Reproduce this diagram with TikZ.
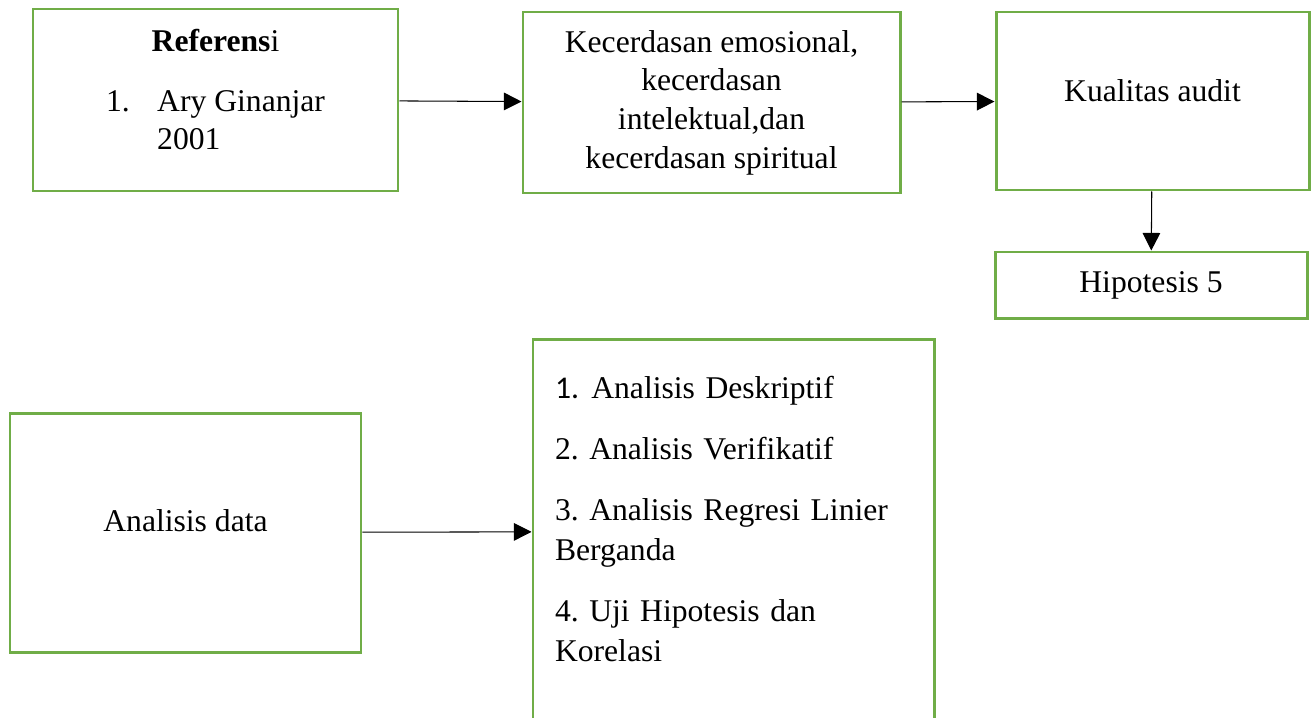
\documentclass[tikz,border=0pt]{standalone}
\usepackage{fontspec}
\setmainfont{Liberation Serif}
\newfontfamily\numfont{Carlito}
\usetikzlibrary{arrows.meta}
\definecolor{boxgreen}{HTML}{70AD47}

\begin{document}
\frenchspacing
\begin{tikzpicture}[rectangle, line width = 0.6pt, font = \fontsize{18}{22}\selectfont,
    box/.style = {draw = boxgreen, line width = 1.7pt, inner sep = 0pt, align = center},
    > = {Triangle[length = 10pt, width = 10pt]}]
    \clip (0,0) rectangle (26.32,-14.34);

    \node[box, minimum width = 7.30cm, minimum height = 3.64cm] (ref) at (4.31,-2.00)
      {\begin{tabular}{@{}l@{\hspace{0.55cm}}l@{}}
         \multicolumn{2}{c}{\textbf{Referens}i}\\[12pt]
         1. & Ary Ginanjar\\
            & 2001\\[8pt]
       \end{tabular}};
    \node[box, minimum width = 7.54cm, minimum height = 3.62cm] (kec) at (14.23,-2.05)
      {Kecerdasan emosional,\\ kecerdasan\\ intelektual,dan\\ kecerdasan spiritual};
    \node[box, minimum width = 6.26cm, minimum height = 3.56cm, text depth = 12pt] (kual) at (23.05,-2.02) {Kualitas audit};
    \node[box, minimum width = 6.24cm, minimum height = 1.32cm] (hip) at (23.02,-5.70) {Hipotesis 5};

    \node[box, minimum width = 7.02cm, minimum height = 4.78cm, text depth = 14pt] (data) at (3.71,-10.65) {Analisis data};
    \node[box, minimum width = 8.02cm, minimum height = 7.70cm, text width = 7.14cm,
          align = left] (list) at (14.67,-10.63)
      {{\numfont 1.}\hspace{7pt}Analisis Deskriptif\\[12.5pt]
       2. Analisis Verifikatif\\[12.5pt]
       3. Analisis Regresi Linier\\[1pt] Berganda\\[12.5pt]
       4. Uji Hipotesis dan\\[1pt] Korelasi\\[-8pt]\mbox{}};

    \draw[->] (ref) edge (kec);
    \draw[->] (kec) edge (kual);
    \draw[->] (kual) edge (hip);
    \draw[->] (data) edge (list);
  \end{tikzpicture}
\end{document}
